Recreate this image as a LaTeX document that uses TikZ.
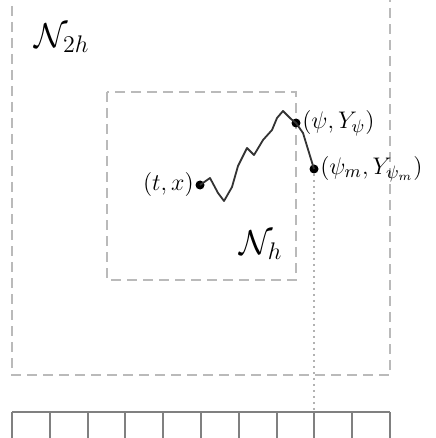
\documentclass[tikz,border=0pt]{standalone}
\usetikzlibrary{calc}
\begin{document}
\begin{tikzpicture}[x=0.5pt,y=-0.5pt,
  every node/.style={font=\fontsize{13}{16}\selectfont},
  big/.style={font=\fontsize{17}{20}\selectfont},
  region/.style={draw=black!27,dashed,line width=1pt,dash pattern=on 5pt off 3pt},
  ruler/.style={draw=black!50,line width=1pt},
  pathline/.style={draw=black!80,line width=0.9pt,line join=round},
  pt/.style={circle,fill=black,inner sep=0pt,minimum size=4.5pt},
  lbl/.style={inner sep=0.5pt}]
\useasboundingbox (0,0) rectangle (435,438);
% outer region N_2h
\draw[region] (12,-10) -- (12,375) -- (390,375) -- (390,-10);
% inner region N_h
\draw[region] (107,92) rectangle (296,280);
% labels of regions
\node[big] at (62,38) {$\mathcal{N}_{2h}$};
\node[big] at (261,245) {$\mathcal{N}_h$};
% points
\node[pt] (tx) at (200,185) {};
\node[pt] (psi) at (296,123) {};
\node[pt] (psim) at (314,169) {};
\node[lbl,anchor=east] at (tx.west) {$(t,x)$};
\node[lbl,anchor=west] at (psi.east) {$(\psi,Y_\psi)$};
\node[lbl,anchor=west] at (psim.east) {$(\psi_m,Y_{\psi_m})$};
% ruler
\coordinate (r0) at (12,412);
\coordinate (r1) at (390,412);
\coordinate (rm) at (314,412);
\draw[ruler] (r0) -- (r1);
\foreach \i in {0,...,10} {
  \draw[ruler] ($(r0)!\i/10!(r1)$) -- ++(0,30);
}
% dotted drop
\draw[draw=black!30,dotted,line width=1pt] (psim) -- (rm);
% path
\draw[pathline] (tx.center) -- (210,178) -- (218,193) -- (224,201) -- (232,187) -- (238,166) -- (247,148) -- (254,155) -- (263,140) -- (272,130) -- (277,118) -- (283,111) -- (291,119) -- (psi.center) -- (303,133) -- (psim.center);
\end{tikzpicture}
\end{document}
